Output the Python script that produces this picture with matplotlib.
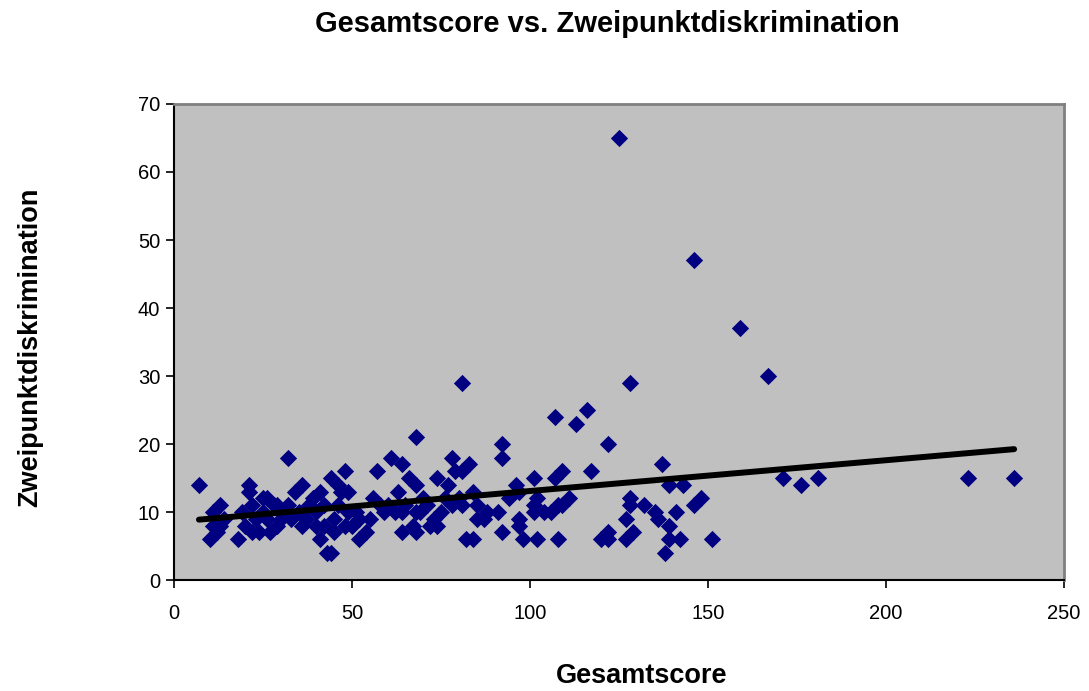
import numpy as np
import matplotlib
matplotlib.use("Agg")
import matplotlib.pyplot as plt

plt.rcParams['font.family'] = ['Liberation Sans', 'DejaVu Sans']

# Gesamtscore (x) and Zweipunktdiskrimination (y) per subject
gesamtscore = [
    7, 10, 11, 11, 12, 13, 13, 14, 18, 19, 21, 21, 20, 22, 22, 23, 24, 25, 25, 26,
    26, 27, 28, 29, 29, 30, 31, 32, 32, 33, 34, 35, 36, 36, 37, 38, 39, 40, 40, 41,
    41, 42, 42, 43, 44, 44, 45, 45, 46, 46, 47, 48, 48, 49, 49, 50, 51, 52, 52, 54,
    55, 56, 57, 58, 59, 60, 61, 62, 63, 64, 64, 64, 65, 66, 67, 68, 68, 68, 68, 69,
    70, 71, 72, 73, 74, 74, 75, 76, 77, 78, 78, 79, 80, 81, 81, 81, 82, 83, 84, 84,
    85, 85, 87, 88, 91, 92, 92, 92, 94, 96, 97, 97, 97, 98, 101, 101, 101, 102, 102, 104,
    106, 107, 107, 108, 108, 109, 109, 111, 113, 116, 117, 120, 122, 122, 122, 125, 127, 127, 128, 128,
    128, 129, 132, 135, 136, 137, 138, 139, 139, 139, 141, 142, 143, 146, 146, 148, 151, 159, 167, 171,
    176, 181, 223, 236,
]
zweipunkt = [
    14, 6, 8, 10, 7, 11, 8, 9, 6, 10, 14, 13, 8, 7, 11, 9, 7, 12, 10, 9,
    12, 7, 11, 8, 11, 9, 10, 18, 11, 9, 13, 10, 14, 8, 9, 11, 12, 8, 10, 13,
    6, 8, 11, 4, 4, 15, 7, 9, 11, 14, 13, 8, 16, 10, 13, 8, 10, 9, 6, 7,
    9, 12, 16, 11, 10, 11, 18, 10, 13, 17, 10, 7, 11, 15, 8, 7, 14, 21, 10, 10,
    12, 11, 8, 9, 15, 8, 10, 12, 14, 18, 11, 16, 12, 29, 16, 11, 6, 17, 13, 6,
    11, 9, 9, 10, 10, 20, 18, 7, 12, 14, 13, 9, 8, 6, 15, 11, 10, 12, 6, 10,
    10, 24, 15, 6, 11, 16, 11, 12, 23, 25, 16, 6, 20, 7, 6, 65, 9, 6, 29, 12,
    11, 7, 11, 10, 9, 17, 4, 8, 6, 14, 10, 6, 14, 47, 11, 12, 6, 37, 30, 15,
    14, 15, 15, 15,
]

x_ticks = [0, 50, 100, 150, 200, 250]
y_ticks = [0, 10, 20, 30, 40, 50, 60, 70]

x = np.array(gesamtscore, dtype=float)
y = np.array(zweipunkt, dtype=float)

fig = plt.figure(figsize=(10.89, 6.91), dpi=100)
ax = fig.add_axes([0.1598, 0.1606, 0.8172, 0.6889])
ax.set_facecolor('#C0C0C0')

ax.scatter(x, y, marker='D', s=8.8 ** 2, color='#000080', linewidths=0, zorder=3)

# linear trend line over the data range
slope, intercept = np.polyfit(x, y, 1)
xl = np.array([x.min(), x.max()])
ax.plot(xl, intercept + slope * xl, color='black', lw=4.3, solid_capstyle='round', zorder=4)

ax.set_xlim(0, 250)
ax.set_ylim(0, 70)
ax.set_xticks(x_ticks)
ax.set_yticks(y_ticks)
ax.tick_params(direction='out', length=6, width=1.2, labelsize=14.5, colors='black')
ax.tick_params(axis='y', pad=4)
ax.tick_params(axis='x', pad=11)

for side in ('top', 'right'):
    ax.spines[side].set_color('#808080')
    ax.spines[side].set_linewidth(2)
for side in ('left', 'bottom'):
    ax.spines[side].set_color('black')
    ax.spines[side].set_linewidth(1.5)

fig.text(0.558, 0.965, 'Gesamtscore vs. Zweipunktdiskrimination', ha='center', va='center',
         fontsize=21, fontweight='bold')
fig.text(0.589, 0.022, 'Gesamtscore', ha='center', va='center', fontsize=19.5, fontweight='bold')
fig.text(0.028, 0.497, 'Zweipunktdiskrimination', ha='center', va='center', rotation=90,
         fontsize=19.5, fontweight='bold')

fig.savefig('out.png', dpi=100)
